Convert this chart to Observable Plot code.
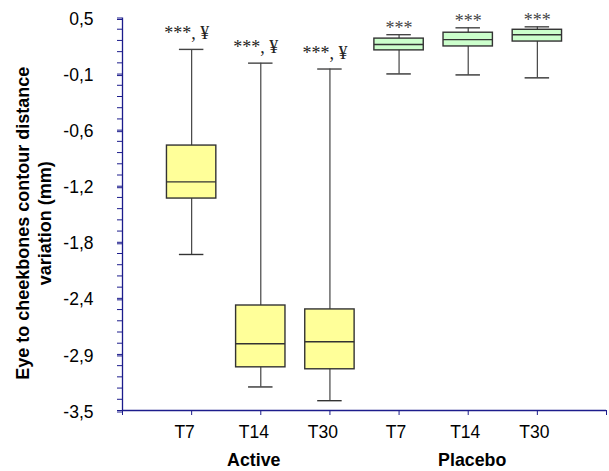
<!DOCTYPE html>
<html>
<head>
<meta charset="utf-8">
<script src="https://cdn.jsdelivr.net/npm/d3@7"></script>
<script src="https://cdn.jsdelivr.net/npm/@observablehq/plot@0.6"></script>
<style>
  html, body { margin: 0; padding: 0; background: white; }
</style>
</head>
<body>
<div id="chart"></div>
<script>
// ---- data ----
const categories   = ["T7", "T14", "T30", "T7", "T14", "T30"];
const groups       = ["Active", "Active", "Active", "Placebo", "Placebo", "Placebo"];
const whiskerHigh  = [0.18, 0.04, -0.02, 0.33, 0.40, 0.41];
const q3           = [-0.80, -2.43, -2.47, 0.29, 0.35, 0.38];
const median       = [-1.17, -2.82, -2.80, 0.23, 0.28, 0.33];
const q1           = [-1.34, -3.06, -3.08, 0.17, 0.21, 0.26];
const whiskerLow   = [-1.91, -3.26, -3.40, -0.07, -0.08, -0.11];
const notes        = ["***, ¥", "***, ¥", "***, ¥", "***", "***", "***"];
const groupNames   = ["Active", "Placebo"];
const yMin = -3.5, yMax = 0.5;
const yTickCount = 8;          // labelled ticks
const yMinorPerMajor = 5;      // minor subdivisions
const yTitle1 = "Eye to cheekbones contour distance";
const yTitle2 = "variation (mm)";

const rows = categories.map((c, i) => ({
  pos: i + 1, cat: c, group: groups[i],
  lo: whiskerLow[i], q1: q1[i], med: median[i], q3: q3[i], hi: whiskerHigh[i],
  note: notes[i]
}));
const groupRows = groupNames.map(g => ({
  name: g, pos: d3.mean(rows.filter(r => r.group === g), r => r.pos)
}));

const step = (yMax - yMin) / (yTickCount - 1);
const majorTicks = d3.range(yTickCount).map(k => yMax - k * step);
const minorTicks = d3.range((yTickCount - 1) * yMinorPerMajor + 1)
  .map(k => yMax - k * step / yMinorPerMajor);
const fmt = v => d3.format(".1f")(v).replace("\u2212", "-").replace(".", ",");

const navy = "#1c1c8c";
const boxHalf = 0.357, capHalf = 0.177;
const serif = "'Liberation Serif', 'Times New Roman', serif";

const chart = Plot.plot({
  width: 609,
  height: 471,
  marginLeft: 122,
  marginRight: 3,
  marginTop: 17.5,
  marginBottom: 61,
  style: { fontFamily: "'Liberation Sans', Arial, sans-serif", fontSize: "17.5px", background: "white", color: "black" },
  x: { type: "linear", domain: [0, categories.length + 1], axis: null },
  y: { domain: [yMin, yMax], axis: null },
  marks: [
    // axes
    Plot.axisY(minorTicks, { tickSize: 5, tickFormat: () => "", stroke: navy, label: null }),
    Plot.axisY(majorTicks, { tickSize: 5, tickPadding: 24, tickFormat: fmt, stroke: navy, label: null, dy: 1.5 }),
    Plot.axisX(d3.range(categories.length + 2), { tickSize: 5, tickFormat: () => "", stroke: navy, label: null }),
    Plot.ruleX([0], { stroke: navy, strokeWidth: 1.3 }),
    Plot.ruleY([yMin], { stroke: navy, strokeWidth: 1.3 }),
    // x tick labels
    Plot.text(rows.filter(r => r.group === "Active"), { x: "pos", text: "cat", frameAnchor: "bottom", lineAnchor: "top", dy: 15, dx: -7 }),
    Plot.text(rows.filter(r => r.group === "Placebo"), { x: "pos", text: "cat", frameAnchor: "bottom", lineAnchor: "top", dy: 15, dx: -3 }),
    // group labels
    Plot.text(groupRows.slice(0, 1), { x: "pos", text: "name", frameAnchor: "bottom", lineAnchor: "top", dy: 43, dx: -7, fontWeight: "bold", fontSize: 17.8 }),
    Plot.text(groupRows.slice(1), { x: "pos", text: "name", frameAnchor: "bottom", lineAnchor: "top", dy: 43, dx: 4, fontWeight: "bold", fontSize: 17.8 }),
    // y title
    Plot.text([yTitle1], { text: d => d, frameAnchor: "left", textAnchor: "middle", rotate: -90, dx: -99, dy: 9, fontWeight: "bold", fontSize: 18 }),
    Plot.text([yTitle2], { text: d => d, frameAnchor: "left", textAnchor: "middle", rotate: -90, dx: -77.5, dy: 9, fontWeight: "bold", fontSize: 18 }),
    // whiskers
    Plot.ruleX(rows, { x: "pos", y1: "lo", y2: "hi", stroke: "#444", strokeWidth: 1.2 }),
    Plot.ruleY(rows, { y: "hi", x1: d => d.pos - capHalf, x2: d => d.pos + capHalf, stroke: "#444", strokeWidth: 1.4 }),
    Plot.ruleY(rows, { y: "lo", x1: d => d.pos - capHalf, x2: d => d.pos + capHalf, stroke: "#333", strokeWidth: 1.4 }),
    // boxes
    Plot.rect(rows.filter(r => r.group === "Active"), { x1: d => d.pos - boxHalf, x2: d => d.pos + boxHalf, y1: "q1", y2: "q3", fill: "#FFFF99", stroke: "#333", strokeWidth: 1.4 }),
    Plot.rect(rows.filter(r => r.group === "Placebo"), { x1: d => d.pos - boxHalf, x2: d => d.pos + boxHalf, y1: "q1", y2: "q3", fill: "#CCFFCC", stroke: "#333", strokeWidth: 1.4 }),
    Plot.ruleY(rows, { y: "med", x1: d => d.pos - boxHalf, x2: d => d.pos + boxHalf, stroke: "#333", strokeWidth: 1.4 }),
    // annotations
    Plot.text(rows.filter(r => r.group === "Active"), { x: "pos", y: "hi", text: "note", dy: -16, dx: -5, fontFamily: serif, fontSize: 18, fill: "#222" }),
    Plot.text(rows.filter(r => r.group === "Placebo"), { x: "pos", y: "hi", text: "note", dy: -6.5, fontFamily: serif, fontSize: 18, fill: "#444" })
  ]
});
document.getElementById("chart").appendChild(chart);
</script>
</body>
</html>
